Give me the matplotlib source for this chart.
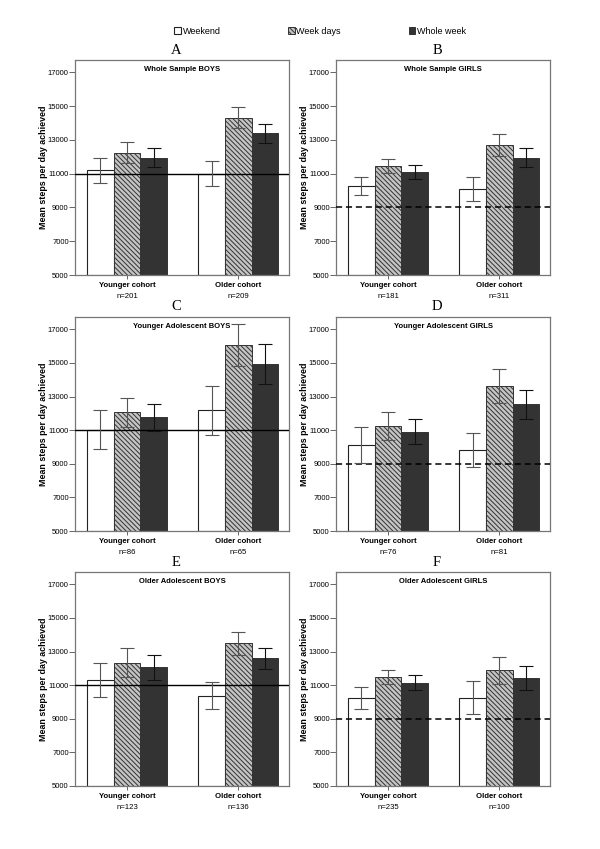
import matplotlib
matplotlib.use("Agg")
import matplotlib.pyplot as plt
from matplotlib.patches import Patch
import numpy as np

plt.rcParams['font.family'] = ['Liberation Sans', 'DejaVu Sans']
plt.rcParams['hatch.linewidth'] = 0.7

# ---------------- data ----------------
cohorts = ["Younger cohort", "Older cohort"]
series = ["Weekend", "Week days", "Whole week"]
panel_letters = ["A", "B", "C", "D", "E", "F"]
panel_titles = ["Whole Sample BOYS", "Whole Sample GIRLS",
                "Younger Adolescent BOYS", "Younger Adolescent GIRLS",
                "Older Adolescent BOYS", "Older Adolescent GIRLS"]
n_labels = [["n=201", "n=209"], ["n=181", "n=311"],
            ["n=86", "n=65"], ["n=76", "n=81"],
            ["n=123", "n=136"], ["n=235", "n=100"]]

weekend_mean = [[11200, 11000], [10250, 10090], [11020, 12170],
                [10110, 9820], [11320, 10380], [10240, 10260]]
weekend_ci = [[740, 730], [540, 700], [1170, 1440],
              [1070, 1010], [1000, 820], [660, 1000]]
weekdays_mean = [[12240, 14320], [11450, 12700], [12070, 16050],
                 [11240, 13620], [12340, 13490], [11490, 11880]]
weekdays_ci = [[610, 610], [400, 630], [870, 1260],
               [820, 1010], [840, 670], [420, 800]]
wholeweek_mean = [[11950, 13380], [11100, 11940], [11755, 14940],
                  [10905, 12530], [12050, 12600], [11140, 11414]]
wholeweek_ci = [[550, 590], [395, 570], [820, 1200],
                [740, 870], [760, 620], [435, 730]]

reference_value = [11000, 9000, 11000, 9000, 11000, 9000]
reference_style = ["-", "--", "-", "--", "-", "--"]

y_ticks = [5000, 7000, 9000, 11000, 13000, 15000, 17000]
y_label = "Mean steps per day achieved"

# ---------------- layout ----------------
W, H = 600, 849
fig = plt.figure(figsize=(W / 100, H / 100), dpi=100)
fig.patch.set_facecolor("white")

rows = [(60, 275), (317, 531), (572, 786)]
cols = [(75, 289), (336, 550)]


def rect(l, r, t, b):
    return [l / W, 1 - b / H, (r - l) / W, (b - t) / H]


bar_styles = [
    dict(facecolor="white", edgecolor="#222222", linewidth=0.8),
    dict(facecolor="#c4c4c4", edgecolor="#333333", linewidth=0.7, hatch="\\\\\\\\\\\\\\"),
    dict(facecolor="#333333", edgecolor="#333333", linewidth=0.7),
]
err_colors = ["#555555", "#555555", "#111111"]
width = 0.24
offsets = [-width, 0, width]
x = np.arange(len(cohorts))

for p in range(6):
    r, c = divmod(p, 2)
    t, b = rows[r]
    l, rr = cols[c]
    ax = fig.add_axes(rect(l, rr, t, b))
    means = [weekend_mean[p], weekdays_mean[p], wholeweek_mean[p]]
    cis = [weekend_ci[p], weekdays_ci[p], wholeweek_ci[p]]
    for s in range(3):
        ax.bar(x + offsets[s], np.array(means[s]) - 5000, width, bottom=5000,
               zorder=2, **bar_styles[s])
    if reference_style[p] == "--":
        ax.axhline(reference_value[p], color="black", lw=1.1, ls="--",
                   dashes=(4, 2.5), zorder=3)
    else:
        ax.axhline(reference_value[p], color="black", lw=1.0, ls="-", zorder=3)
    for s in range(3):
        ax.errorbar(x + offsets[s], means[s], yerr=cis[s], fmt="none",
                    ecolor=err_colors[s], elinewidth=0.8, capsize=4.8,
                    capthick=0.8, zorder=4)
    ax.set_ylim(5000, 17730)
    ax.set_xlim(-0.467, 1.455)
    ax.set_yticks(y_ticks)
    ax.set_yticklabels([str(v) for v in y_ticks], fontsize=5.5)
    ax.set_xticks(x)
    ax.set_xticklabels(cohorts, fontsize=5.6, fontweight="bold")
    ax.tick_params(axis="y", length=4, pad=0.5, color="#666666", width=0.7)
    ax.tick_params(axis="x", length=3, pad=2.2, color="#666666", width=0.7)
    for sp in ax.spines.values():
        sp.set_color("#777777")
        sp.set_linewidth(0.9)
    for i in range(len(cohorts)):
        ax.annotate(n_labels[p][i], xy=(x[i], 0), xycoords=("data", "axes fraction"),
                    xytext=(0, -15.6), textcoords="offset points",
                    ha="center", va="center", fontsize=5.6)
    ax.text(0.5, 1 - 9.7 / (b - t), panel_titles[p], transform=ax.transAxes,
            ha="center", va="center", fontsize=5.5, fontweight="bold")
    ax.text(-31.5 / (rr - l), 0.5, y_label, transform=ax.transAxes, rotation=90,
            ha="center", va="center", fontsize=6.4, fontweight="bold")
    letter_x = (l + rr) / 2 - 6
    letter_y = t - 10
    fig.text(letter_x / W, 1 - letter_y / H, panel_letters[p],
             ha="center", va="center", fontsize=10.5,
             family=["Liberation Serif", "DejaVu Serif"])

handles = [Patch(label=series[s], **bar_styles[s]) for s in range(3)]
fig.legend(handles=handles, loc="center", bbox_to_anchor=(320 / W, 1 - 31 / H),
           ncol=3, frameon=False, fontsize=6.5, handlelength=0.7, handleheight=0.7,
           handletextpad=0.2, columnspacing=7.5, borderpad=0)

fig.savefig("out.png", dpi=100, facecolor="white")
